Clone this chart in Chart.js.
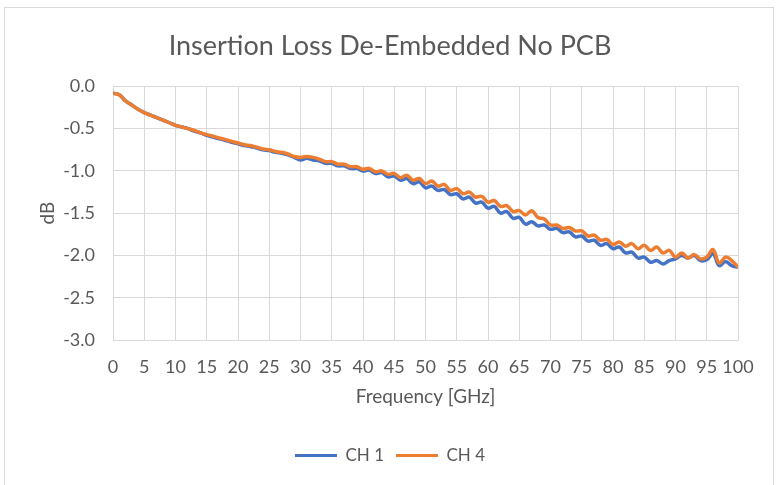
<!DOCTYPE html>
<html>
<head>
<meta charset="utf-8">
<script src="https://cdn.jsdelivr.net/npm/chart.js@4"></script>
<style>
  html, body { margin: 0; padding: 0; background: #fff; }
  #wrap { width: 780px; height: 485px; }
</style>
</head>
<body>
<div id="wrap"><canvas id="myChart" width="780" height="485"></canvas></div>
<script>
// frequency points in GHz
const freq = [0,1,2,3,4,5,6,7,8,9,10,11,12,13,14,15,16,17,18,19,20,
  21,22,23,24,25,26,27,28,29,30,31,32,33,34,35,36,37,38,39,40,
  41,42,43,44,45,46,47,48,49,50,51,52,53,54,55,56,57,58,59,60,
  61,62,63,64,65,66,67,68,69,70,71,72,73,74,75,76,77,78,79,80,
  81,82,83,84,85,86,87,88,89,90,91,92,93,94,95,96,97,98,99,100];

// CH 1 insertion loss, dB
const ch1 = [
  -0.08,-0.10,-0.17,-0.22,-0.27,-0.31,-0.34,-0.37,-0.40,-0.43,
  -0.46,-0.48,-0.50,-0.53,-0.55,-0.58,-0.60,-0.62,-0.64,-0.66,
  -0.68,-0.70,-0.71,-0.73,-0.75,-0.76,-0.78,-0.79,-0.81,-0.84,
  -0.87,-0.85,-0.87,-0.88,-0.91,-0.91,-0.94,-0.94,-0.97,-0.97,
  -1.00,-0.99,-1.03,-1.02,-1.07,-1.06,-1.11,-1.09,-1.15,-1.13,
  -1.20,-1.18,-1.23,-1.22,-1.28,-1.27,-1.33,-1.31,-1.38,-1.37,
  -1.44,-1.42,-1.50,-1.48,-1.56,-1.55,-1.63,-1.60,-1.65,-1.64,
  -1.69,-1.68,-1.73,-1.72,-1.78,-1.77,-1.83,-1.82,-1.88,-1.86,
  -1.92,-1.90,-1.97,-1.96,-2.03,-2.02,-2.08,-2.06,-2.10,-2.06,
  -2.04,-2.00,-2.03,-2.00,-2.06,-2.05,-1.98,-2.12,-2.07,-2.12,-2.14];

// CH 4 insertion loss, dB
const ch4 = [
  -0.08,-0.10,-0.17,-0.22,-0.27,-0.31,-0.34,-0.37,-0.40,-0.43,
  -0.46,-0.48,-0.50,-0.52,-0.55,-0.57,-0.59,-0.61,-0.63,-0.65,
  -0.67,-0.69,-0.70,-0.72,-0.74,-0.75,-0.77,-0.78,-0.80,-0.83,
  -0.84,-0.83,-0.84,-0.86,-0.89,-0.89,-0.92,-0.92,-0.95,-0.95,
  -0.98,-0.97,-1.01,-1.00,-1.04,-1.03,-1.08,-1.05,-1.11,-1.09,
  -1.15,-1.12,-1.18,-1.16,-1.23,-1.21,-1.27,-1.25,-1.31,-1.30,
  -1.37,-1.35,-1.42,-1.41,-1.48,-1.47,-1.52,-1.47,-1.55,-1.57,
  -1.64,-1.64,-1.68,-1.67,-1.71,-1.71,-1.77,-1.76,-1.82,-1.81,
  -1.87,-1.84,-1.89,-1.86,-1.92,-1.88,-1.94,-1.90,-1.97,-1.94,
  -2.02,-1.97,-2.03,-1.99,-2.04,-2.02,-1.93,-2.09,-2.02,-2.06,-2.14];

const seriesNames = ['CH 1', 'CH 4'];
const seriesColors = ['#4472C4', '#ED7D31'];

const xTicks = { min: 0, max: 100, step: 5 };
const yTicks = { min: -3, max: 0, step: 0.5 };

const txt = '#595959';
const grid = '#d9d9d9';
const fam = 'Lato, "Open Sans", sans-serif';

// thin grey frame around the whole chart, like the office chart border
const frame = {
  id: 'frame',
  beforeDraw(chart) {
    const c = chart.ctx;
    c.save();
    c.strokeStyle = '#d9d9d9';
    c.lineWidth = 1;
    c.strokeRect(4.5, 7.5, 769, 500);
    c.restore();
  }
};

function pts(ys) {
  return freq.map((f, i) => ({ x: f, y: ys[i] }));
}

const ctx = document.getElementById('myChart').getContext('2d');
new Chart(ctx, {
  type: 'line',
  data: {
    datasets: [
      // orange is drawn over blue in the original, so CH 4 gets the lower order
      { label: seriesNames[0], data: pts(ch1), borderColor: seriesColors[0], backgroundColor: seriesColors[0], order: 1 },
      { label: seriesNames[1], data: pts(ch4), borderColor: seriesColors[1], backgroundColor: seriesColors[1], order: 0 }
    ]
  },
  options: {
    responsive: false,
    animation: false,
    devicePixelRatio: 1,
    layout: { padding: { left: 0, right: 0, top: 0, bottom: 11 } },
    elements: {
      point: { radius: 0 },
      line: { borderWidth: 3.5, tension: 0.4, fill: false }
    },
    plugins: {
      title: {
        display: true,
        text: 'Insertion Loss De-Embedded No PCB',
        color: txt,
        font: { family: fam, size: 27, weight: 'normal' },
        padding: { top: 30, bottom: 24 }
      },
      legend: {
        position: 'bottom',
        labels: {
          color: txt,
          font: { family: fam, size: 17 },
          boxWidth: 42,
          boxHeight: 3,
          padding: 12,
          sort: (a, b) => a.datasetIndex - b.datasetIndex,
          generateLabels: chart => Chart.defaults.plugins.legend.labels.generateLabels(chart)
            .map(l => Object.assign(l, { lineWidth: 0 }))
        }
      },
      tooltip: { enabled: false }
    },
    scales: {
      x: {
        type: 'linear',
        min: xTicks.min,
        max: xTicks.max,
        afterFit: s => { s.height = 95; },
        grid: { color: grid, drawTicks: false },
        border: { color: grid },
        ticks: {
          stepSize: xTicks.step,
          autoSkip: false,
          color: txt,
          padding: 16,
          font: { family: fam, size: 18 },
          maxRotation: 0
        },
        title: {
          display: true,
          text: 'Frequency [GHz]',
          color: txt,
          font: { family: fam, size: 19 },
          padding: { top: 0, bottom: 27 }
        }
      },
      y: {
        min: yTicks.min,
        max: yTicks.max,
        afterFit: s => { s.width = 113; },
        grid: { color: grid, drawTicks: false },
        border: { color: grid },
        ticks: {
          stepSize: yTicks.step,
          color: txt,
          padding: 18,
          font: { family: fam, size: 18 },
          callback: v => v.toFixed(1)
        },
        title: {
          display: true,
          text: 'dB',
          color: txt,
          font: { family: fam, size: 19 },
          padding: { top: 36, bottom: 0 }
        }
      },
      // empty right-hand margin so title and legend centre on the full width
      yRight: {
        position: 'right',
        min: yTicks.min,
        max: yTicks.max,
        afterFit: s => { s.width = 42; },
        grid: { display: false },
        border: { display: false },
        ticks: { display: false }
      }
    }
  },
  plugins: [frame]
});
</script>
</body>
</html>
